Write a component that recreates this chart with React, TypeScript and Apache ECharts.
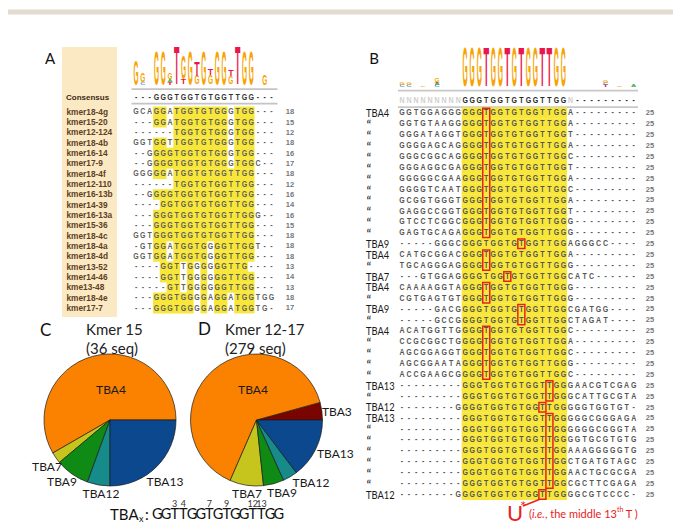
import React, { useEffect, useRef } from "react";
import * as echarts from "echarts";

// ---------------- Panel A data ----------------
const aNames = ["kmer18-4g","kmer15-20","kmer12-124","kmer18-4b","kmer16-14","kmer17-9","kmer18-4f","kmer12-110","kmer16-13b","kmer14-39","kmer16-13a","kmer15-36","kmer18-4c","kmer18-4a","kmer18-4d","kmer13-52","kmer14-46","kme13-48","kmer18-4e","kmer17-7"];
const aSeqs = [
  "GCAGGATGGTGTGGGTGG---",
  "---GGATGGTGTGGGTGG---",
  "------TGGTGTGGGTGG---",
  "GGTGGTTGGTGTGGGTGG---",
  "--GGGGTGGTGTGGGTGG---",
  "--GGGGTGGTGTGGGTGGC--",
  "GGGGGATGGTGTGGTTGG---",
  "------TGGTGTGGTTGG---",
  "--GGGGTGGTGTGGTTGG---",
  "----GGTGGTGTGGTTGG---",
  "---GGGTGGTGTGGTTGGG--",
  "---GGGTGGTGTGGTTGG---",
  "GGTGGGTGGTGTGGTTGG---",
  "-GTGGATGGTGGGGTTGGT--",
  "GGTGGATGGTGGGGTTGG---",
  "----GGTTGGGGGGTTG----",
  "----GGTTGGGGGGTTGG---",
  "-----GTTGGGGGGTTGG---",
  "---GGGTGGGGAGGATGGTGG",
  "---GGGTGGGGAGGATGGTG-",
];
const aLengths = [18,15,12,18,16,17,18,12,16,14,16,15,18,18,18,13,14,13,18,17];
const aConsensus = "---GGGTGGTGTGGTTGG---";
// sequence logo stacks (bottom -> top): [letter, height px]
const aLogo: [string, number][][] = [
  [["G",25]], [["C",2],["G",9]], [], [["G",35]], [["G",35]], [["T",2],["A",3],["G",7]],
  [["T",38]], [["T",5],["G",24]], [["G",35]], [["G",9],["T",14]], [["G",35]], [["G",9],["T",6]],
  [["G",35]], [["G",35]], [["G",8],["T",6]], [["T",38]], [["G",35]], [["G",35]], [], [["G",11]], [],
];

// ---------------- Panel B data ----------------
const bLabels = ["TBA4","“","“","“","“","“","“","“","“","“","“","“","TBA9","TBA4","“","TBA7","TBA4","“","TBA9","“","TBA4","“","“","“","“","TBA13","“","TBA12","TBA13","“","“","“","“","“","“","TBA12"];
const bSeqs = [
  "GGTGGAGGGGGGTGGTGTGGTTGGA---------",
  "GGTGTAAGGGGGTGGTGTGGTTGGA---------",
  "GGGATAGGTGGGTGGTGTGGTTGGT---------",
  "GGGGAGCAGGGGTGGTGTGGTTGGA---------",
  "GGGCGGCAGGGGTGGTGTGGTTGGC---------",
  "GGGAGGCGAGGGTGGTGTGGTTGGT---------",
  "GGGGGCGAAGGGTGGTGTGGTTGGA---------",
  "GGGGTCAATGGGTGGTGTGGTTGGC---------",
  "GCGGTGGGTGGGTGGTGTGGTTGGA---------",
  "GAGGCCGGTGGGTGGTGTGGTTGGT---------",
  "GTCCTCGGCGGGTGGTGTGGTTGGG---------",
  "GAGTGCAGAGGGTGGTGTGGTTGGG---------",
  "-----GGGCGGGTGGTGTGGTTGGAGGGCC----",
  "CATGCGGACGGGTGGTGTGGTTGGA---------",
  "TGCAGGGAGGGGTGGTGTGGTTGGG---------",
  "---GTGGAGGGGTGGTGTGGTTGGCATC------",
  "CAAAAGGTAGGGTGGTGTGGTTGGG---------",
  "CGTGAGTGTGGGTGGTGTGGTTGGG---------",
  "-----GACGGGGTGGTGTGGTTGGCGATGG----",
  "-----GCCGGGGTGGTGTGGTTGGCTAGAT----",
  "ACATGGTTGGGGTGGTGTGGTTGGC---------",
  "CCGCGGCTGGGGTGGTGTGGTTGGA---------",
  "AGCGGAGGTGGGTGGTGTGGTTGGC---------",
  "AGCGGAATAGGGTGGTGTGGTTGGG---------",
  "ACCGAAGCGGGGTGGTGTGGTTGGC---------",
  "---------GGGTGGTGTGGTTGGGAACGTCGAG",
  "---------GGGTGGTGTGGTTGGGCATTGCGTA",
  "--------GGGGTGGTGTGGTTGGGGGTGGTGT-",
  "---------GGGTGGTGTGGTTGGGGGCGGGAGA",
  "---------GGGTGGTGTGGTTGGGGGGCGGGTA",
  "---------GGGTGGTGTGGTTGGGGTGCGTGTG",
  "---------GGGTGGTGTGGTTGGAAAGGGGGTG",
  "---------GGGTGGTGTGGTTGGCTGATGTAGC",
  "---------GGGTGGTGTGGTTGGAACTGCGCGA",
  "---------GGGTGGTGTGGTTGGCGCTTCGAGA",
  "--------GGGGTGGTGTGGTTGGGGCGTCCCC-",
];
const bLengths = [25,25,25,25,25,25,25,25,25,25,25,25,25,25,25,25,25,25,25,25,25,25,25,25,25,25,25,25,25,25,25,25,25,25,25,25];
const bConsensus = "NNNNNNNNNGGGTGGTGTGGTTGGN---------";
// red boxes: [firstRow, lastRow, column]
const bBoxes: [number, number, number][] = [
  [0,11,12],[12,12,17],[13,14,12],[15,15,15],[16,17,12],[18,19,17],[20,24,12],
  [25,26,21],[27,27,20],[28,34,21],[35,35,20],
];
// logo stacks: [column, stack bottom->top]
const bLogo: [number, [string, number][]][] = [
  [0,[["C",2],["G",3]]],[1,[["C",2],["G",3]]],[3,[["G",1.5]]],[5,[["C",2],["A",2],["T",1],["G",4]]],
  [9,[["G",40]]],[10,[["G",40]]],[11,[["G",40]]],[12,[["T",40]]],[13,[["G",40]]],[14,[["G",40]]],
  [15,[["T",40]]],[16,[["G",40]]],[17,[["T",40]]],[18,[["G",40]]],[19,[["G",40]]],[20,[["T",40]]],
  [21,[["T",40]]],[22,[["G",40]]],[23,[["G",40]]],
  [29,[["T",2],["C",2],["G",3]]],[31,[["G",1.5]]],[33,[["A",3]]],
];

// ---------------- Pie data ----------------
const cCategories = ["TBA4","TBA7","TBA9","TBA12","TBA13"];
const cValues = [21,1,3,2,9];
const dCategories = ["TBA3","TBA4","TBA7","TBA9","TBA12","TBA13"];
const dValues = [12,179,23,14,10,41];
const tbaSequence = "GGTTGGTGTGGTTGG";
const tbaPositions = [3,4,7,9,12,13];

// ---------------- styles ----------------
const tbaColors: Record<string, string> = {
  TBA3: "#7a0500", TBA4: "#fb8200", TBA7: "#c5c51e", TBA9: "#0f8a14", TBA12: "#178a8a", TBA13: "#0b488e",
};
const logoColors: Record<string, string> = { G: "#f7a300", T: "#e8184c", A: "#3cae46", C: "#4d8fd6" };
const cLabelPos: Record<string, [number, number, string]> = {
  TBA4: [111, 389, "center"], TBA7: [47, 466, "center"], TBA9: [62, 481, "center"],
  TBA12: [101, 493, "center"], TBA13: [165, 481, "center"],
};
const dLabelPos: Record<string, [number, number, string]> = {
  TBA3: [322, 411, "left"], TBA4: [253, 389, "center"], TBA7: [247, 493, "center"],
  TBA9: [282, 492, "center"], TBA12: [311, 482, "center"], TBA13: [317, 453, "left"],
};
const YELLOW = "#f8e73a";
const RED = "#e8221b";

const A_COL0 = 132.7, A_COLW = 6.77, A_ROW0 = 111.7, A_ROWH = 10.33, A_CONS_Y = 97.5;
const B_COL0 = 398.5, B_COLW = 7.02, B_ROW0 = 112.7, B_ROWH = 10.9, B_CONS_Y = 99.8;

function buildGraphics() {
  const els: any[] = [];
  const ctx = document.createElement("canvas").getContext("2d") as CanvasRenderingContext2D;
  const measure = (s: string, font: string) => { ctx.font = font; return ctx.measureText(s).width; };
  const T = (x: number, y: number, text: string, font: string, fill: string, align = "left", vAlign = "middle", extra: any = {}) => {
    els.push({
      type: "text", x, y, silent: true, ...extra,
      style: { text, font, fill, align, verticalAlign: vAlign, textAlign: align, textVerticalAlign: vAlign },
    });
  };
  const R = (x: number, y: number, w: number, h: number, style: any) => {
    els.push({ type: "rect", silent: true, shape: { x, y, width: w, height: h }, style });
  };
  const stack = (cx: number, baseline: number, colW: number, items: [string, number][]) => {
    let y = baseline;
    const F = 20;
    for (const [ch, h] of items) {
      const gw = (ch === "T" ? 0.611 : ch === "G" ? 0.778 : 0.722) * F;
      const sx = (colW * (ch === "T" ? 0.8 : 0.74)) / gw;
      const sy = h / (0.716 * F);
      T(cx, y - h / 2, ch, `bold ${F}px "Liberation Sans"`, logoColors[ch] || "#888", "center", "middle", { scaleX: sx, scaleY: sy });
      y -= h;
    }
  };
  const isBase = (c: string) => c === "A" || c === "C" || c === "G" || c === "T";

  // top band
  R(8, 9.5, 665, 5, { fill: "#e2dcd0" });

  // ---------- Panel A ----------
  T(50, 58, "A", "15px Lato", "#111", "center");
  R(62, 47, 55, 270, { fill: "#fbe9c3" });
  aLogo.forEach((items, c) => stack(A_COL0 + (c + 0.5) * A_COLW, 84.5, A_COLW, items));
  R(131.5, 88.3, 146, 1.8, { fill: "#c4c4c4" });
  R(131.5, 102.8, 146, 1.8, { fill: "#c4c4c4" });
  T(66, A_CONS_Y, "Consensus", 'bold 8px "Liberation Sans"', "#3d2a14");
  const fontA = 'bold 8.3px "Liberation Sans"';
  for (let c = 0; c < aConsensus.length; c++) {
    T(A_COL0 + (c + 0.5) * A_COLW, A_CONS_Y, aConsensus[c], fontA, "#333", "center", "middle", { scaleX: 0.85 });
  }
  aSeqs.forEach((seq, r) => {
    const y = A_ROW0 + r * A_ROWH;
    // yellow runs where the base matches the consensus
    let c = 0;
    while (c < seq.length) {
      if (isBase(seq[c]) && seq[c] === aConsensus[c]) {
        let e = c;
        while (e + 1 < seq.length && isBase(seq[e + 1]) && seq[e + 1] === aConsensus[e + 1]) e++;
        R(A_COL0 + c * A_COLW, y - A_ROWH / 2, (e - c + 1) * A_COLW, A_ROWH + 0.3, { fill: YELLOW });
        c = e + 1;
      } else c++;
    }
    T(66.5, y, aNames[r], 'bold 8.3px "Liberation Sans"', "#5e4023");
    for (let k = 0; k < seq.length; k++) {
      T(A_COL0 + (k + 0.5) * A_COLW, y, seq[k], fontA, "#5f5f5f", "center", "middle", { scaleX: 0.85 });
    }
    T(290, y, String(aLengths[r]), 'bold 7.5px "Liberation Sans"', "#777", "center");
  });

  // ---------- Panel B ----------
  T(374, 57.5, "B", "15px Lato", "#111", "center");
  bLogo.forEach(([c, items]) => stack(B_COL0 + (c + 0.5) * B_COLW, 86.7, B_COLW, items));
  R(398, 89.8, 240, 1.8, { fill: "#c8c8c8" });
  R(398, 106.3, 240, 1.8, { fill: "#c8c8c8" });
  const fontB = 'bold 9px "Liberation Sans"';
  for (let c = 0; c < bConsensus.length; c++) {
    const ch = bConsensus[c];
    T(B_COL0 + (c + 0.5) * B_COLW, B_CONS_Y, ch, fontB, ch === "N" ? "#cfcfcf" : "#2a2a2a", "center", "middle", { scaleX: 0.78 });
  }
  bSeqs.forEach((seq, r) => {
    const y = B_ROW0 + r * B_ROWH;
    let c = 0;
    while (c < seq.length) {
      if (isBase(seq[c]) && seq[c] === bConsensus[c]) {
        let e = c;
        while (e + 1 < seq.length && isBase(seq[e + 1]) && seq[e + 1] === bConsensus[e + 1]) e++;
        R(B_COL0 + c * B_COLW, y - B_ROWH / 2, (e - c + 1) * B_COLW, B_ROWH + 0.3, { fill: YELLOW });
        c = e + 1;
      } else c++;
    }
    const lab = bLabels[r];
    if (lab === "“") T(366.5, y + 1.5, lab, "13px Lato", "#222", "left", "middle");
    else T(366, y, lab, "11px Lato", "#1a1a1a", "left", "middle", { scaleX: 0.85 });
    for (let k = 0; k < seq.length; k++) {
      T(B_COL0 + (k + 0.5) * B_COLW, y, seq[k], fontB, "#555", "center", "middle", { scaleX: 0.78 });
    }
    T(650, y, String(bLengths[r]), 'bold 7.5px "Liberation Sans"', "#777", "center");
  });
  bBoxes.forEach(([r1, r2, c]) => {
    const x = B_COL0 + c * B_COLW;
    const y1 = B_ROW0 + r1 * B_ROWH - 4.5;
    const y2 = B_ROW0 + r2 * B_ROWH + 5;
    R(x, y1, B_COLW, y2 - y1, { fill: "none", stroke: RED, lineWidth: 1.5 });
  });
  // arrow + annotation
  const lastBox = bBoxes[bBoxes.length - 1];
  const ax = B_COL0 + lastBox[2] * B_COLW + 1;
  const ay = B_ROW0 + lastBox[1] * B_ROWH + 5;
  els.push({ type: "line", silent: true, shape: { x1: ax, y1: ay, x2: 523, y2: 506 }, style: { stroke: RED, lineWidth: 1.5 } });
  T(507, 512, "U", "22px Lato", RED, "left");
  T(520, 506, "*", "15px Lato", RED, "left");
  const nf = "11px Lato", itf = "italic 11px Lato", sf = "7px Lato";
  let px = 529;
  const ty = 513;
  const parts: [string, string, number][] = [["(", nf, 0], ["i.e.", itf, 0], [", the middle 13", nf, 0], ["th", sf, -4], [" T )", nf, 0]];
  parts.forEach(([s, f, dy]) => { T(px, ty + dy, s, f, RED, "left"); px += measure(s, f); });

  // ---------- Pies titles ----------
  T(40, 329, "C", "17px Lato", "#111", "left");
  T(86, 329, "Kmer 15", "15px Lato", "#222", "left");
  T(86, 347.5, "(36 seq)", "15px Lato", "#222", "left");
  T(198, 328, "D", "17px Lato", "#111", "left");
  T(225, 329, "Kmer 12-17", "15px Lato", "#222", "left");
  T(225, 347.5, "(279 seq)", "15px Lato", "#222", "left");

  // ---------- TBAx line ----------
  T(110, 513.5, "TBA", "15px Lato", "#111", "left");
  T(110 + measure("TBA", "15px Lato") + 0.5, 518, "x", "9px Lato", "#111", "left");
  T(145, 513.5, ":", "15px Lato", "#111", "left");
  const sx0 = 153, sw = 8.67;
  for (let i = 0; i < tbaSequence.length; i++) {
    T(sx0 + (i + 0.5) * sw, 513.5, tbaSequence[i], "14.5px Lato", "#111", "center");
  }
  tbaPositions.forEach((p) => T(sx0 + (p - 0.5) * sw, 503, String(p), "9px Lato", "#333", "center"));
  return els;
}

function pieSeries(cats: string[], vals: number[], center: [number, number], pos: Record<string, [number, number, string]>) {
  return {
    type: "pie",
    center,
    radius: 66,
    startAngle: 0,
    clockwise: false,
    avoidLabelOverlap: false,
    silent: true,
    emphasis: { disabled: true },
    itemStyle: { borderColor: "#1a1a1a", borderWidth: 0.7 },
    label: { show: true, position: "outside", formatter: "{b}", fontFamily: "Lato", fontSize: 12, color: "#1a1a1a" },
    labelLine: { show: false },
    labelLayout: (p: any) => {
      const q = pos[cats[p.dataIndex]];
      return { x: q[0], y: q[1], align: q[2], verticalAlign: "middle" };
    },
    data: cats.map((n, i) => ({ name: n, value: vals[i], itemStyle: { color: tbaColors[n] } })),
  };
}

export default function App() {
  const ref = useRef<HTMLDivElement>(null);
  useEffect(() => {
    if (!ref.current) return;
    const chart = echarts.init(ref.current, undefined, { renderer: "svg" });
    chart.setOption({
      animation: false,
      backgroundColor: "#ffffff",
      series: [
        pieSeries(cCategories, cValues, [110, 420], cLabelPos),
        pieSeries(dCategories, dValues, [256.5, 420], dLabelPos),
      ],
      graphic: { elements: buildGraphics() },
    });
    return () => chart.dispose();
  }, []);
  return <div ref={ref} style={{ position: "fixed", left: 0, top: 0, width: 673, height: 523 }} />;
}
